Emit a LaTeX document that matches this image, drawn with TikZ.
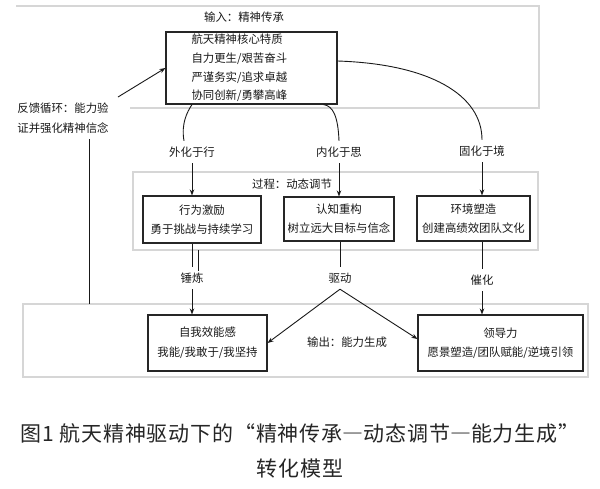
\documentclass[tikz,border=0pt]{standalone}
\usepackage{fontspec}
\newfontfamily\cjk{Noto Sans CJK SC}
\newfontfamily\capfont[LetterSpace=4]{Noto Sans CJK SC}
\newcommand{\fwdash}{{\addfontfeature{CharacterWidth=Full}—}}
\usetikzlibrary{arrows.meta}
\begin{document}
\begin{tikzpicture}[x=1pt,y=-1pt,
  txt/.style={font=\cjk\fontsize{11.4}{19}\selectfont, text=black!90, inner sep=0pt, align=center},
  box/.style={txt, draw=black!85, line width=1.1pt, fill=white},
  panel/.style={draw=black!16, line width=1.6pt},
  lab/.style={txt, minimum height=22pt},
  conn/.style={draw=black!90, line width=0.9pt},
  arr/.style={conn, -{Stealth[length=6pt,width=4.5pt]}}
]
\useasboundingbox (0,0) rectangle (600,488);
\fill[white] (0,0) rectangle (600,488);

% panels
\draw[panel] (16,6) -- (539,6) -- (539,108) -- (130,108);
\draw[panel] (133,172) rectangle (538,250);
\draw[panel] (23,304) rectangle (588,377);

% input
\node[txt] (intitle) at (244,17) {输入：精神传承};
\node[box, minimum width=171pt, minimum height=72pt, text width=120pt, align=left,
      font=\cjk\fontsize{11.4}{18.7}\selectfont] (in) at (251.5,68)
  {航天精神核心特质\\自力更生/艰苦奋斗\\严谨务实/追求卓越\\协同创新/勇攀高峰};

% feedback
\node[txt, font=\cjk\fontsize{11.4}{20}\selectfont] (fb) at (63,118) {反馈循环：能力验\\证并强化精神信念};
\coordinate (fbA) at (118,97);
\coordinate (fbB) at (89,139);
\coordinate (fbC) at (89,304);
\draw[arr] (fbA) -- (in.west);
\draw[conn] (fbB) -- (fbC);

% labels
\node[lab] (l1) at (192,152) {外化于行};
\node[lab] (l2) at (339,152) {内化于思};
\node[lab] (l3) at (482,151) {固化于境};

\draw[conn] (l1 |- in.south) .. controls (187,112) and (181,124) .. ([xshift=-8pt]l1.north);
\draw[conn] ([xshift=-14pt]in.south east) .. controls (333,106) and (338,116) .. (l2.north);
\draw[conn] ([yshift=7pt]in.east) .. controls (430,64) and (482,95) .. (l3.north);

% process
\node[txt] (ptitle) at (292,184) {过程：动态调节};
\node[box, minimum width=118pt, minimum height=47pt] (b1) at (202,219.5) {行为激励\\勇于挑战与持续学习};
\node[box, minimum width=110pt, minimum height=44pt] (b2) at (339,219) {认知重构\\树立远大目标与信念};
\node[box, minimum width=113pt, minimum height=45pt] (b3) at (473.5,218.5) {环境塑造\\创建高绩效团队文化};

\draw[arr] (l1.south) -- (l1.south |- b1.north);
\draw[arr] (l2.south) -- (l2.south |- b2.north);
\draw[arr] (l3.south) -- (l3.south |- b3.north);

% output
\node[txt] (otitle) at (347,342) {输出：能力生成};
\node[box, minimum width=119pt, minimum height=56pt, font=\cjk\fontsize{11.4}{20}\selectfont] (o1) at (207.5,343) {自我效能感\\我能/我敢于/我坚持};
\node[box, minimum width=165pt, minimum height=56pt, font=\cjk\fontsize{11.4}{19}\selectfont] (o2) at (500.5,343) {领导力\\愿景塑造/团队赋能/逆境引领};

\node[lab] (d1) at (192,278) {锤炼};
\node[lab] (d2) at (340,278) {驱动};
\node[lab] (d3) at (482,280) {催化};

\draw[conn] (d1.north |- b1.south) -- (d1.north);
\coordinate (x1) at (198,250);
\coordinate (x2) at (198,271);
\draw[conn] (x1) -- (x2);
\draw[arr] (d1.south) -- (d1.south |- o1.north);

\draw[conn] (d2.north |- b2.south) -- (d2.north);
\draw[arr] (d2.south) -- (o1.east);
\draw[arr] (d2.south) -- ([yshift=4pt]o2.west);

\draw[conn] (d3.north |- b3.south) -- (d3.north);
\draw[arr] (d3.south) -- (d3.south |- o2.north);

% caption
\node[txt, font=\capfont\fontsize{21}{35}\selectfont, text=black!85] (cap) at (300,450.5)
  {图1 航天精神驱动下的“精神传承\fwdash 动态调节\fwdash 能力生成”\\转化模型};
\end{tikzpicture}
\end{document}
